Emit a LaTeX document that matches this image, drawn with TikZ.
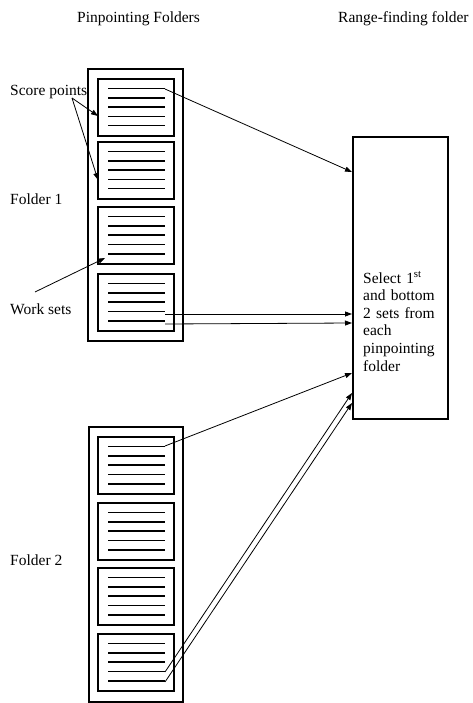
\documentclass[tikz,border=0pt]{standalone}
\usepackage{fontspec}
\setmainfont{Liberation Serif}
\usetikzlibrary{arrows.meta}
\begin{document}
\begin{tikzpicture}[x=1pt,y=-1pt,
  lbl/.style={anchor=base west, inner sep=0pt, font=\fontsize{15.5}{17.6}\selectfont},
  folderbox/.style={draw, line width=1.3pt},
  setbox/.style={draw, line width=1.8pt},
  txtline/.style={line width=1.6pt},
  conn/.style={line width=0.8pt, -{Triangle[length=7pt,width=5pt]}},
  plainline/.style={line width=0.8pt}
]
\useasboundingbox (0,0) rectangle (472,703);

% titles
\node[lbl] (t1) at (77,23) {Pinpointing Folders};
\node[lbl] (t2) at (338,23) {Range-finding folder};

% folder 1
\draw[folderbox] (88,69) rectangle (183,341);
\foreach \t [count=\i] in {79,142,207,274} {
  \draw[setbox] (98,\t) rectangle (174,\t+57);
  \foreach \k in {0,...,4}
    \draw[txtline] (108,{\t+9.5+9.3*\k}) -- (165,{\t+9.5+9.3*\k});
}
% folder 2
\draw[folderbox] (89,427) rectangle (183,702);
\foreach \t [count=\i] in {437,503,568,634} {
  \draw[setbox] (98,\t) rectangle (174,\t+57);
  \foreach \k in {0,...,4}
    \draw[txtline] (108,{\t+9.5+9.3*\k}) -- (165,{\t+9.5+9.3*\k});
}

% range-finding folder
\node[draw, line width=1.8pt, minimum width=95pt, minimum height=282pt, inner sep=0pt, anchor=north west] (rf) at (352,136) {};
\node[lbl, text width=90pt, align=left] (sel) at (363,283)
  {Select 1\textsuperscript{st}\\and bottom\\2 sets from\\each\\pinpointing\\folder};

% labels
\node[lbl] (sp) at (10,96) {Score points};
\node[lbl] (f1) at (10,205) {Folder 1};
\node[lbl] (ws) at (10,314) {Work sets};
\node[lbl] (f2) at (10,565) {Folder 2};

% connector points
\coordinate (a1) at (165,89);
\coordinate (a2) at (165,314);
\coordinate (a3) at (165,324);
\coordinate (b1) at (165,446);
\coordinate (b2) at (165,672);
\coordinate (b3) at (165,682);
\coordinate (e1) at (352,172);
\coordinate (e2) at (352,314);
\coordinate (e3) at (352,323);
\coordinate (e4) at (352,373);
\coordinate (e5) at (352,393);
\coordinate (e6) at (352,403);
\coordinate (sps) at (72,98);
\coordinate (spe1) at (98,116);
\coordinate (spe2) at (98,180);
\coordinate (wss) at (35,292);
\coordinate (wse) at (105,258);

\draw[conn] (a1) -- (e1);
\draw[conn] (a2) -- (e2);
\draw[conn] (a3) -- (e3);
\draw[conn] (b1) -- (e4);
\draw[conn] (b2) -- (e5);
\draw[conn] (b3) -- (e6);
\draw[conn] (sps) -- (spe1);
\draw[conn] (sps) -- (spe2);
\draw[conn] (wss) -- (wse);
\end{tikzpicture}
\end{document}
